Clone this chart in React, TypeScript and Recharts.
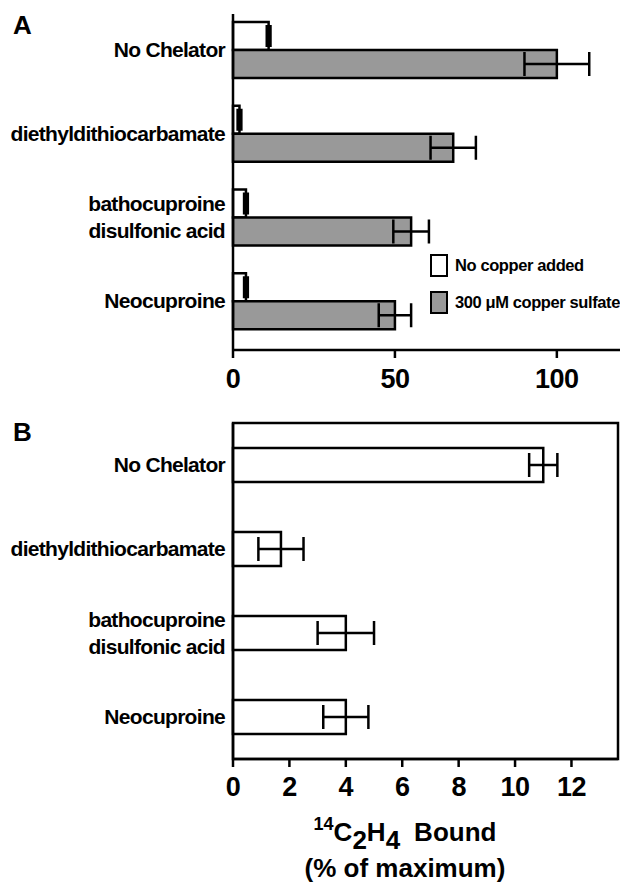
import React from 'react';
import { BarChart, Bar, XAxis, YAxis, ErrorBar, Legend, ReferenceArea } from 'recharts';

const categories = ['No Chelator', 'diethyldithiocarbamate', 'bathocuproine\ndisulfonic acid', 'Neocuproine'];
const aNoCopper = [11, 2, 4, 4];
const aNoCopperErr = [0.5, 0.5, 0.5, 0.5];
const aCopper = [100, 68, 55, 50];
const aCopperErr = [10, 7, 5.5, 5];
const bValues = [11, 1.7, 4, 4];
const bErr = [0.5, 0.8, 1, 0.8];
const aTicks = [0, 50, 100];
const bTicks = [0, 2, 4, 6, 8, 10, 12];
const seriesNames = ['No copper added', '300 \u03bcM copper sulfate'];
const seriesFills = ['#ffffff', '#999999'];

const FONT = '"Liberation Sans", Arial, Helvetica, sans-serif';
const A_MAX = 119.5;
const B_MAX = 13.65;

const dataA = categories.map((c, i) => ({
  name: c,
  noCu: aNoCopper[i],
  noCuErr: aNoCopperErr[i],
  cu: aCopper[i],
  cuErr: aCopperErr[i],
}));
const dataB = categories.map((c, i) => ({ name: c, v: bValues[i], vErr: bErr[i] }));

const CatTick = (props: any) => {
  const { x, y, payload } = props;
  const lines = String(payload.value).split('\n');
  const lh = 27;
  return (
    <text x={x} y={y} textAnchor="end" fontFamily={FONT} fontWeight="bold" fontSize={21} letterSpacing={-0.7} fill="#000">
      {lines.map((l, i) => (
        <tspan key={i} x={x} y={y + (i - (lines.length - 1) / 2) * lh} dy="0.35em">
          {l}
        </tspan>
      ))}
    </text>
  );
};

const LegendContent = (props: any) => {
  const payload = [...(props.payload || [])].sort(
    (a: any, b: any) => seriesNames.indexOf(a.value) - seriesNames.indexOf(b.value)
  );
  return (
    <div style={{ fontFamily: FONT, fontWeight: 'bold', fontSize: 16.5, letterSpacing: -0.4, color: '#000' }}>
      {payload.map((e: any, i: number) => (
        <div key={i} style={{ display: 'flex', alignItems: 'center', height: 23, marginBottom: i === 0 ? 14 : 0, whiteSpace: 'nowrap' }}>
          <div
            style={{
              width: 18,
              height: 23,
              boxSizing: 'border-box',
              border: '2.5px solid #000',
              background: seriesFills[Math.max(0, seriesNames.indexOf(e.value))],
            }}
          />
          <span style={{ marginLeft: 7 }}>{e.value}</span>
        </div>
      ))}
    </div>
  );
};

const tickStyle = { fontSize: 27, fontWeight: 'bold', fill: '#000', fontFamily: FONT, letterSpacing: -0.5 };
const axisLine = { stroke: '#000', strokeWidth: 2.5 };
const subStyle: React.CSSProperties = { display: 'inline-block', lineHeight: '12px', position: 'relative', top: 8 };

export default function App() {
  return (
    <div style={{ position: 'absolute', left: 0, top: 0, width: 620, height: 885, background: '#fff', fontFamily: FONT }}>
      <div style={{ position: 'absolute', left: 13, top: 12, fontSize: 26, fontWeight: 'bold', lineHeight: '26px' }}>A</div>
      <div style={{ position: 'absolute', left: 13, top: 419, fontSize: 26, fontWeight: 'bold', lineHeight: '26px' }}>B</div>

      <div style={{ position: 'absolute', left: 0, top: 0 }}>
        <BarChart width={620} height={400} data={dataA} layout="vertical" margin={{ top: 14, right: 0, bottom: 0, left: 8 }} barGap={0} barSize={28}>
          <XAxis type="number" domain={[0, A_MAX]} ticks={aTicks} height={50} tickSize={8} tickMargin={11} tick={tickStyle} axisLine={axisLine} tickLine={axisLine} />
          <XAxis xAxisId="top" orientation="top" type="number" domain={[0, A_MAX]} height={0} tick={false} tickLine={false} axisLine={axisLine} />
          <YAxis type="category" dataKey="name" width={225} interval={0} tick={<CatTick />} tickLine={false} axisLine={axisLine} padding={{ top: -6, bottom: 7 }} />
          <Legend content={<LegendContent />} layout="vertical" align="center" verticalAlign="middle" wrapperStyle={{ position: 'absolute', left: 430, top: 254, width: 'auto', height: 'auto' }} />
          <Bar dataKey="noCu" name={seriesNames[0]} fill={seriesFills[0]} stroke="#000" strokeWidth={2.5} isAnimationActive={false}>
            <ErrorBar dataKey="noCuErr" direction="x" width={11} stroke="#000" strokeWidth={3} />
          </Bar>
          <Bar dataKey="cu" name={seriesNames[1]} fill={seriesFills[1]} stroke="#000" strokeWidth={2.5} isAnimationActive={false}>
            <ErrorBar dataKey="cuErr" direction="x" width={12} stroke="#000" strokeWidth={2.5} />
          </Bar>
        </BarChart>
      </div>

      <div style={{ position: 'absolute', left: 0, top: 400 }}>
        <BarChart width={620} height={485} data={dataB} layout="vertical" margin={{ top: 23, right: 2, bottom: 6, left: 8 }} barSize={34}>
          <XAxis type="number" domain={[0, B_MAX]} ticks={bTicks} height={120} tickSize={8} tickMargin={10} tick={tickStyle} axisLine={axisLine} tickLine={axisLine} />
          <YAxis type="category" dataKey="name" width={225} interval={0} tick={<CatTick />} tickLine={false} axisLine={axisLine} />
          <ReferenceArea x1={0} x2={B_MAX} fill="none" fillOpacity={0} stroke="#000" strokeWidth={2.5} />
          <Bar dataKey="v" name={seriesNames[0]} fill={seriesFills[0]} stroke="#000" strokeWidth={2.5} isAnimationActive={false}>
            <ErrorBar dataKey="vErr" direction="x" width={12} stroke="#000" strokeWidth={2.5} />
          </Bar>
        </BarChart>
      </div>

      <div style={{ position: 'absolute', left: 245, top: 816, width: 320, textAlign: 'center', fontSize: 26, fontWeight: 'bold', lineHeight: '33px', color: '#000' }}>
        <div style={{ whiteSpace: 'nowrap' }}>
          <span style={{ fontSize: 18, position: 'relative', top: -11 }}>14</span>
          <span>C</span>
          <span style={subStyle}>2</span>
          <span>H</span>
          <span style={subStyle}>4</span>
          <span style={{ marginLeft: 14 }}>Bound</span>
        </div>
        <div style={{ whiteSpace: 'nowrap' }}>(% of maximum)</div>
      </div>
    </div>
  );
}
